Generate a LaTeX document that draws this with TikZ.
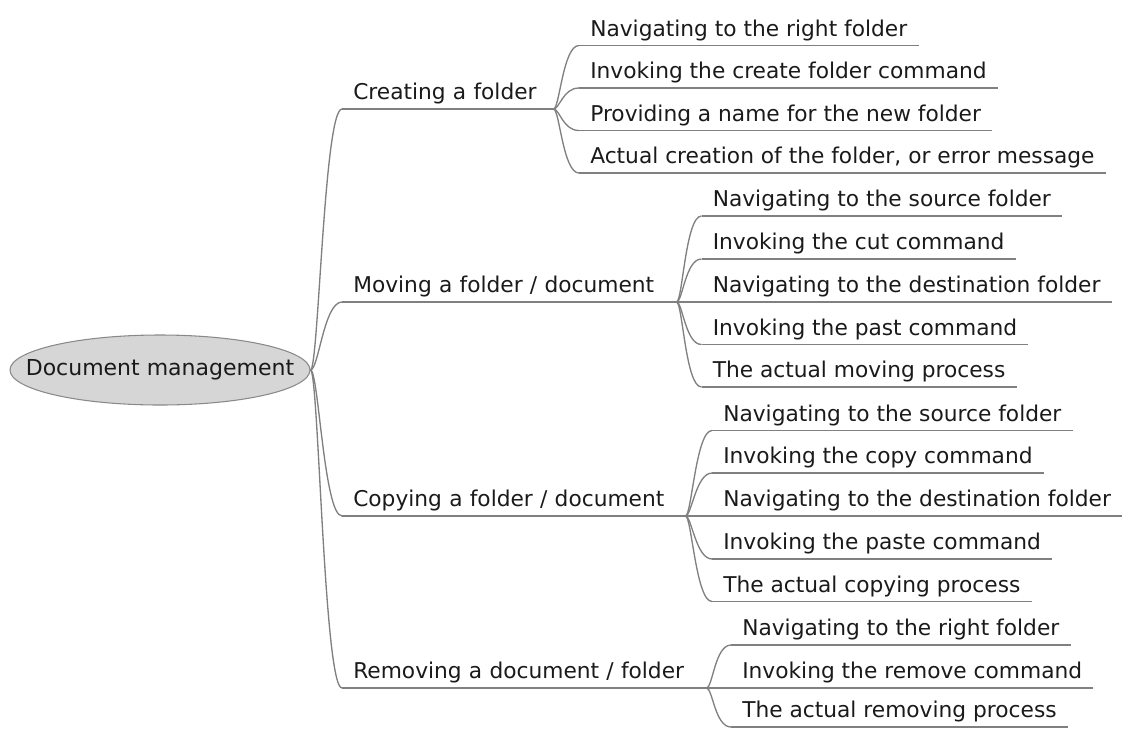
\documentclass[tikz,border=0pt]{standalone}
\usepackage{fontspec}
\setmainfont{DejaVu Sans}
\usetikzlibrary{shapes.geometric}
\definecolor{txt}{HTML}{1A1A1A}
\definecolor{linecol}{HTML}{808080}
\definecolor{ellfill}{HTML}{D6D6D6}
\definecolor{ellcol}{HTML}{8A8A8A}
\begin{document}
\begin{tikzpicture}[x=0.75pt,y=-0.75pt,
  topic/.style={anchor=south west, inner xsep=8.25pt, inner ysep=0pt, text depth=6.75pt,
    font=\fontsize{16.3}{18}\selectfont, text=txt},
  mainbranch/.style={topic, text width=#1, align=left},
  link/.style={draw=linecol, line width=1pt},
  uline/.style={draw=linecol, line width=1pt}
]
\useasboundingbox (0,0) rectangle (1128,729);
\node[ellipse, draw=ellcol, fill=ellfill, line width=0.8pt, minimum width=225pt, minimum height=52.5pt,
  inner sep=0pt,
  label={[font=\fontsize{16.5}{18}\selectfont, text=txt]center:Document management}] (root) at (160,370) {};

% level 1
\node[mainbranch=141.75pt] (c) at (342,109) {Creating a folder};
\node[mainbranch=234pt] (m) at (342,302) {Moving a folder / document};
\node[mainbranch=240.75pt] (p) at (342,516) {Copying a folder / document};
\node[mainbranch=256.5pt] (r) at (342,688) {Removing a document / folder};

% creating
\node[topic] (c1) at (579,45.5) {Navigating to the right folder};
\node[topic] (c2) at (579,88) {Invoking the create folder command};
\node[topic] (c3) at (579,130.5) {Providing a name for the new folder};
\node[topic] (c4) at (579,173) {Actual creation of the folder, or error message};
% moving
\node[topic] (m1) at (701.5,216) {Navigating to the source folder};
\node[topic] (m2) at (701.5,259) {Invoking the cut command};
\node[topic] (m3) at (701.5,302) {Navigating to the destination folder};
\node[topic] (m4) at (701.5,344.5) {Invoking the past command};
\node[topic] (m5) at (701.5,387) {The actual moving process};
% copying
\node[topic] (p1) at (712,430.5) {Navigating to the source folder};
\node[topic] (p2) at (712,473) {Invoking the copy command};
\node[topic] (p3) at (712,516) {Navigating to the destination folder};
\node[topic] (p4) at (712,559) {Invoking the paste command};
\node[topic] (p5) at (712,601.5) {The actual copying process};
% removing
\node[topic] (r1) at (731,645) {Navigating to the right folder};
\node[topic] (r2) at (731,688) {Invoking the remove command};
\node[topic] (r3) at (731,727) {The actual removing process};

% underlines
\foreach \n in {c,m,p,r,c1,c2,c3,c4,m1,m2,m3,m4,m5,p1,p2,p3,p4,p5,r1,r2,r3}
  \draw[uline] (\n.south west) -- (\n.south east);

% root connectors
\foreach \n in {c,m,p,r}
  \draw[link] (root.east) .. controls +(8,0) and +(-18,0) .. (\n.south west);

% child connectors
\foreach \n in {c1,c2,c3,c4}
  \draw[link] (c.south east) .. controls +(6,0) and +(-16,0) .. (\n.south west);
\foreach \n in {m1,m2,m3,m4,m5}
  \draw[link] (m.south east) .. controls +(6,0) and +(-16,0) .. (\n.south west);
\foreach \n in {p1,p2,p3,p4,p5}
  \draw[link] (p.south east) .. controls +(6,0) and +(-16,0) .. (\n.south west);
\foreach \n in {r1,r2,r3}
  \draw[link] (r.south east) .. controls +(6,0) and +(-16,0) .. (\n.south west);
\end{tikzpicture}
\end{document}
